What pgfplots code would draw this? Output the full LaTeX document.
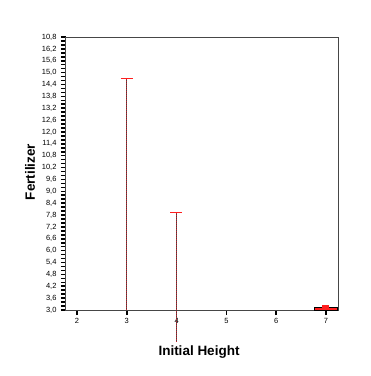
\documentclass[border=0pt]{standalone}
\usepackage{pgfplots}
\pgfplotsset{compat=1.18}
\usepackage{fontspec}
\setmainfont{Liberation Sans}
\definecolor{axgray}{RGB}{70,70,70}
\definecolor{capred}{RGB}{255,30,30}
\definecolor{linered}{RGB}{200,30,40}
\begin{document}
\begin{tikzpicture}[x=1pt,y=1pt]
\useasboundingbox (0,0) rectangle (371,376);
\begin{axis}[
  at={(66pt,66pt)}, anchor=south west,
  scale only axis, width=272pt, height=273pt,
  xmin=1.78, xmax=7.24, ymin=3.0, ymax=16.8,
  clip=false,
  /pgf/number format/assume math mode=true,
  axis line style={axgray, line width=1pt},
  xtick={2,3,4,5,6,7},
  xticklabels={2,3,4,5,6,7},
  ytick={3.0,3.6,4.2,4.8,5.4,6.0,6.6,7.2,7.8,8.4,9.0,9.6,10.2,10.8,11.4,12.0,12.6,13.2,13.8,14.4,15.0,15.6,16.2,16.8},
  yticklabels={3{,}0,3{,}6,4{,}2,4{,}8,5{,}4,6{,}0,6{,}6,7{,}2,7{,}8,8{,}4,9{,}0,9{,}6,10{,}2,10{,}8,11{,}4,12{,}0,12{,}6,13{,}2,13{,}8,14{,}4,15{,}0,15{,}6,16{,}2,10{,}8},
  minor y tick num=2,
  tick align=outside,
  xtick pos=bottom, ytick pos=left,
  major tick length=5pt, minor tick length=5pt,
  every tick/.style={black, line width=1.6pt},
  every minor tick/.style={black, line width=1.6pt},
  ticklabel style={font=\fontsize{7.5}{8}\selectfont},
  yticklabel style={xshift=-1pt},
]
% stems
\addplot[black!75, line width=0.8pt] coordinates {(3,3.0) (3,14.7)};
\addplot[linered, line width=0.8pt, dash pattern=on 1pt off 1pt] coordinates {(3,3.0) (3,14.7)};
\addplot[black!75, line width=0.8pt] coordinates {(3.99,1.4) (3.99,7.95)};
\addplot[linered, line width=0.8pt, dash pattern=on 1pt off 1pt] coordinates {(3.99,1.4) (3.99,7.95)};
% caps
\addplot[capred, line width=1pt] coordinates {(2.88,14.7) (3.12,14.7)};
\addplot[capred, line width=1pt] coordinates {(3.87,7.95) (4.11,7.95)};
% small box at 7
\addplot[fill=capred, draw=black, line width=0.9pt] coordinates {(6.77,3.0) (6.77,3.13) (7.22,3.13) (7.22,3.0)} -- cycle;
\addplot[fill=capred, draw=none] coordinates {(6.92,3.1) (6.92,3.26) (7.06,3.26) (7.06,3.1)} -- cycle;
\end{axis}
\node[font=\fontsize{13.5}{14}\selectfont\bfseries] at (199,24) {Initial Height};
\node[font=\fontsize{13.5}{14}\selectfont\bfseries, rotate=90] at (30,204) {Fertilizer};
\end{tikzpicture}
\end{document}
